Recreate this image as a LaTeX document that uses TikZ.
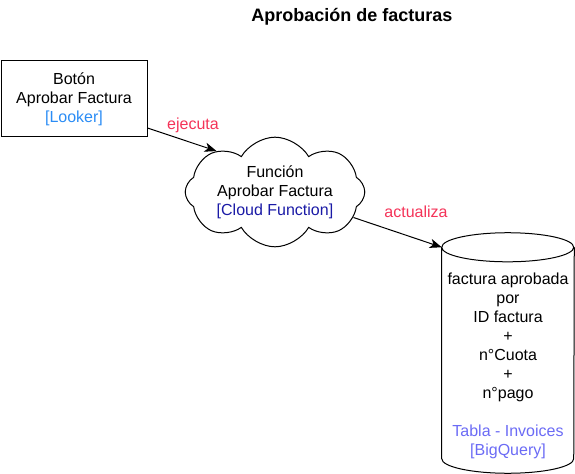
\documentclass[tikz,border=0pt]{standalone}
\usepackage{fontspec}
\setmainfont{Liberation Sans}
\usetikzlibrary{arrows.meta,shapes.symbols,calc}
\definecolor{lookerblue}{HTML}{2A8CF5}
\definecolor{cfblue}{HTML}{1A1AA6}
\definecolor{bqblue}{HTML}{6B6BF5}
\definecolor{verbred}{HTML}{F43358}
\begin{document}
\begin{tikzpicture}[x=0.75pt, y=-0.75pt,
  txt/.style={font=\fontsize{12}{14.25}\selectfont, align=center, inner sep=0pt},
  box/.style={draw, line width=0.75pt, minimum width=109.5pt, minimum height=57pt, txt},
  nube/.style={draw, line width=0.75pt, cloud, cloud puffs=8, cloud puff arc=120, aspect=2.3,
               txt, inner xsep=3pt, inner ysep=-5.5pt},
  verb/.style={txt, text=verbred},
  line/.style={-{Stealth[length=9pt,width=7pt,inset=2.5pt]}, line width=0.75pt}
]
\useasboundingbox (0,0) rectangle (575,474);
\node[font=\fontsize{13.5}{16}\selectfont\bfseries] (title) at (352,17) {Aprobación de facturas};
\node[box] (btn) at (74,99) {Botón\\Aprobar Factura\\\textcolor{lookerblue}{[Looker]}};
\node[nube] (fn) at (275,192) {Función\\Aprobar Factura\\\textcolor{cfblue}{[Cloud Function]}};
\node[minimum width=99pt, minimum height=180pt, inner sep=0pt] (db) at (508,353) {};
\draw[line width=0.75pt] ([yshift=-10.9pt]db.north west) arc[start angle=180, end angle=360, x radius=49.5pt, y radius=10.9pt]
  arc[start angle=0, end angle=180, x radius=49.5pt, y radius=10.9pt]
  -- ([yshift=10.9pt]db.south west)
  arc[start angle=180, end angle=360, x radius=49.5pt, y radius=10.9pt]
  -- ([yshift=-10.9pt]db.north east);
\node[txt] (dbtxt) at (508,365.5) {factura aprobada\\por\\ID factura\\+\\n°Cuota\\+\\n°pago\\[14.25pt]
  \textcolor{bqblue}{Tabla - Invoices}\\\textcolor{bqblue}{[BigQuery]}};
\node[verb] (ejec) at (193,125) {ejecuta};
\node[verb] (act) at (416,212) {actualiza};
\draw[line] ($(btn.east)+(0,29)$) -- (fn.145);
\draw[line] (fn.-18) -- ([yshift=-10.9pt]db.north west);
\end{tikzpicture}
\end{document}
